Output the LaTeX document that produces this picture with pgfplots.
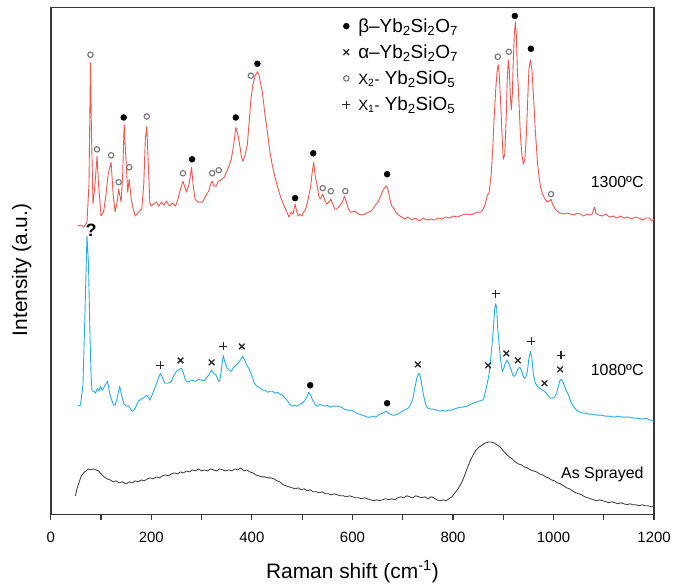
\documentclass[border=0pt]{standalone}
\usepackage{pgfplots}
\pgfplotsset{compat=1.18}
\usepackage{pgfplotstable}
\usepackage{fontspec}
\setmainfont{Liberation Sans}

\definecolor{hotred}{RGB}{236,88,78}
\definecolor{skyblue}{RGB}{40,172,226}
\definecolor{darkline}{RGB}{55,55,55}
\definecolor{ringgray}{RGB}{125,125,125}

% Raman spectra, shift (cm^-1) vs. offset intensity
\pgfplotstableread{
v h
53 288
60 289
66 287
72 292
76 330
79 452
81 380
84 310
88 330
92 358
95 330
100 298
105 302
110 320
114 340
120 352
124 320
128 302
132 312
135 325
140 312
143 340
146 390
149 360
153 322
156 335
160 315
164 305
168 298
172 300
176 303
181 305
185 330
188 375
191 388
194 350
197 312
200 308
204 310
210 312
215 308
220 312
225 309
230 313
236 308
242 311
248 308
253 315
258 325
263 333
266 328
270 322
275 330
280 347
283 330
287 315
293 312
302 312
308 318
314 323
318 330
321 333
325 328
329 328
333 333
338 334
345 337
352 345
359 355
364 370
368 387
372 380
375 372
379 358
382 353
386 358
391 370
395 395
398 415
402 430
406 438
411 443
414 440
417 432
421 422
426 400
431 382
436 362
441 348
447 335
454 322
460 313
467 305
474 297
478 302
482 300
486 310
489 303
492 298
496 300
500 298
503 302
507 305
512 315
517 328
520 342
523 352
526 338
530 328
533 318
536 315
539 318
541 320
545 314
549 310
553 312
557 315
561 310
565 305
569 305
574 308
580 312
584 318
588 312
592 305
596 302
599 302
605 303
612 300
618 299
625 300
632 302
638 303
644 308
651 312
656 318
661 324
665 327
668 328
671 324
674 316
678 308
681 307
686 302
692 299
698 297
704 295
710 297
718 294
725 296
733 293
741 296
748 294
756 295
763 294
770 296
778 295
786 297
794 296
800 298
809 297
818 299
826 300
833 299
840 300
848 302
855 302
860 305
864 310
868 318
872 322
876 340
879 365
882 398
885 425
888 445
890 450
892 440
895 410
898 375
900 355
903 360
906 400
908 435
910 455
912 445
914 420
916 405
918 420
920 455
922 480
924 493
926 480
928 445
931 415
934 380
937 360
940 350
943 355
946 380
949 420
951 445
954 455
957 445
960 420
964 382
968 352
971 338
974 328
978 320
983 315
987 312
991 313
995 315
998 310
1002 306
1007 303
1013 301
1020 300
1027 301
1034 300
1040 299
1047 301
1053 300
1060 298
1066 300
1072 299
1077 300
1080 305
1082 307
1084 301
1090 299
1097 298
1104 300
1111 297
1119 298
1126 296
1133 298
1140 296
1148 297
1155 295
1162 297
1170 296
1177 294
1184 296
1191 296
1196 293
1200 295
}\hightemp

\pgfplotstableread{
v h
53 107
59 108
64 128
68 200
72 278
75 250
78 178
80 140
82 122
86 122
89 120
93 125
96 122
99 127
102 123
104 124
108 128
113 132
117 120
122 112
125 108
128 108
132 115
137 127
141 118
145 110
150 107
155 107
160 103
164 102
169 106
174 112
180 114
186 116
191 118
194 116
197 113
203 120
209 128
214 135
218 140
222 136
227 130
233 130
240 132
245 138
250 142
256 144
260 145
264 140
268 133
272 131
276 132
282 133
288 132
294 134
300 133
306 133
310 136
314 138
318 142
320 143
324 140
329 138
333 133
336 132
339 142
343 158
346 152
351 145
355 143
359 142
364 146
368 148
374 151
379 155
382 157
386 153
390 148
394 145
398 140
402 135
405 130
410 127
415 126
421 123
426 123
431 121
436 122
441 122
446 120
451 121
456 119
461 118
465 116
470 113
475 109
480 107
486 108
490 107
495 109
500 110
504 112
509 116
513 121
517 118
521 113
527 108
531 107
535 109
540 108
546 107
550 108
556 106
560 107
565 107
572 107
578 106
584 104
590 103
596 103
602 102
608 100
614 99
620 98
625 97
630 96
636 96
642 97
647 96
651 98
655 99
660 100
664 101
668 102
671 100
675 99
680 98
684 98
690 99
696 101
702 103
707 104
711 105
715 108
720 114
724 125
728 135
732 140
735 137
738 128
740 122
744 112
747 107
750 105
756 104
762 104
768 103
774 102
780 103
786 102
790 103
796 103
802 104
808 105
814 106
820 106
826 107
829 107
835 109
840 110
846 111
852 112
856 113
859 113
862 116
866 125
869 132
872 140
875 155
878 170
881 190
883 205
885 210
887 205
889 185
892 168
895 152
898 142
901 145
904 150
907 153
910 151
913 147
916 143
919 138
921 137
924 138
927 142
930 145
933 146
936 143
939 138
942 135
945 136
948 142
951 155
954 162
957 155
960 138
964 130
968 127
972 125
976 124
979 123
982 122
986 120
990 117
994 115
998 115
1002 116
1006 120
1010 128
1013 133
1015 134
1018 132
1022 127
1026 122
1030 118
1034 112
1038 108
1042 105
1046 103
1052 101
1058 100
1064 100
1070 99
1077 99
1086 98
1095 98
1103 97
1111 97
1120 96
1129 97
1137 96
1145 96
1152 96
1160 95
1168 95
1176 94
1184 95
1192 93
1200 92
}\midtemp

\pgfplotstableread{
v h
49 17
52 24
56 30
60 36
65 40
70 42
75 44
80 43
85 44
90 43
95 42
100 39
106 36
112 34
118 33
124 31
130 32
136 30
142 31
150 29
156 31
162 30
168 32
174 31
180 33
186 32
192 34
198 35
204 34
210 36
216 35
222 37
228 38
234 37
240 39
246 40
252 39
258 41
264 40
270 42
276 41
282 43
288 42
294 44
300 42
306 43
312 42
318 44
324 43
330 42
336 44
342 43
348 42
354 43
360 42
366 44
372 43
378 45
384 42
390 43
396 41
402 40
408 38
414 37
420 36
426 36
432 35
438 35
444 34
450 32
456 31
462 28
468 27
474 26
480 25
486 24
492 25
498 23
504 24
510 22
516 23
522 21
528 21
534 20
540 21
546 19
552 19
558 18
564 19
570 18
576 17
582 17
588 16
594 17
600 16
606 15
612 15
618 14
624 15
630 14
636 13
642 12
648 13
654 12
660 13
666 14
672 13
678 14
684 13
690 15
696 16
702 15
708 17
714 16
720 15
726 17
732 16
738 15
744 16
750 14
756 16
762 15
768 13
774 12
780 13
786 12
792 14
798 16
804 20
810 24
816 29
822 36
828 44
834 52
840 58
846 63
852 66
858 68
864 70
870 71
876 71
882 70
888 68
894 66
900 62
906 59
912 56
918 54
924 51
930 49
936 48
942 46
948 45
954 43
960 42
966 41
972 39
978 38
984 36
990 35
996 33
1002 32
1008 30
1014 29
1020 27
1026 25
1032 24
1038 22
1044 20
1050 19
1056 18
1062 16
1068 15
1074 14
1080 13
1086 12
1092 13
1098 12
1104 11
1110 10
1116 11
1122 10
1128 9
1134 10
1140 9
1146 8
1152 9
1158 8
1164 8
1170 7
1176 8
1182 7
1188 7
1194 6
1200 6
}\sprayed

\begin{document}
\begin{tikzpicture}
\begin{axis}[
  name=spec,
  scale only axis, width=606bp, height=509.4bp,
  xmin=0, xmax=1200, ymin=-1.7, ymax=507.7,
  clip=false,
  ytick=\empty,
  xtick={0,200,...,1200}, minor xtick={100,300,...,1100},
  xtick pos=left, xtick align=outside,
  major tick length=6bp, minor tick length=6bp,
  x tick style={line width=1.2bp, draw=darkline},
  axis line style={line width=1.5bp, draw=darkline},
  /pgf/number format/assume math mode=true,
  /pgf/number format/set thousands separator={},
  xticklabel style={font=\fontsize{15bp}{17bp}\selectfont, yshift=-8bp},
  xlabel={Raman shift (cm\textsuperscript{-1})},
  ylabel={Intensity (a.u.)},
  label style={font=\fontsize{21bp}{24bp}\selectfont},
  x label style={at={(axis description cs:0.5,-0.126)}, anchor=base},
  y label style={at={(axis description cs:-0.0483,0.482)}, anchor=center},
  legend style={at={(axis description cs:0.478,0.986)}, anchor=north west,
    draw=none, fill=none, font=\fontsize{19bp}{21bp}\selectfont,
    row sep=7bp, column sep=6bp, cells={anchor=west}},
]
% frame traced through the axis itself
\addplot[darkline, line width=1.5bp, line join=miter, forget plot] coordinates {
(0,-1.7) (0,507.7) (1200,507.7) (1200,-1.7) (0,-1.7)};

\addplot[hotred, line width=0.9bp, line join=round, forget plot] table[x=v,y=h] {\hightemp};
\addplot[skyblue, line width=0.9bp, line join=round, forget plot] table[x=v,y=h] {\midtemp};
\addplot[darkline, line width=0.8bp, line join=round, forget plot] table[x=v,y=h] {\sprayed};

% phase markers
\addplot[only marks, mark=*, mark size=3bp, black] coordinates {
(145,397) (281,355) (368,397) (411,451) (486,316) (522,361) (669,340) (923,499) (955,466)
(516,128) (669,110)};
\addlegendentry{β–Yb\textsubscript{2}Si\textsubscript{2}O\textsubscript{7}}
\addplot[only marks, mark=x, mark size=4bp, line width=1.3bp, black!85] coordinates {
(258,153) (320,151) (380,167) (730,149) (870,148) (906,160) (929,153) (982,130) (1013,144)};
\addlegendentry{α–Yb\textsubscript{2}Si\textsubscript{2}O\textsubscript{7}}
\addplot[only marks, mark=*, mark size=2.7bp, line width=1.2bp, draw=ringgray, fill=white] coordinates {
(79,460) (92,365) (120,359) (135,332) (156,347) (191,398) (263,341) (321,341) (334,344)
(398,439) (541,326) (557,323) (586,323) (889,458) (911,463) (995,320)};
\addlegendentry{{\fontsize{15bp}{17bp}\selectfont X\textsubscript{2}-} Yb\textsubscript{2}SiO\textsubscript{5}}
\addplot[only marks, mark=+, mark size=4bp, line width=1.3bp, black!85] coordinates {
(218,148) (343,167) (885,220) (956,172) (1015,158)};
\addlegendentry{{\fontsize{15bp}{17bp}\selectfont X\textsubscript{1}-} Yb\textsubscript{2}SiO\textsubscript{5}}

\node[font=\fontsize{16bp}{18bp}\selectfont, anchor=east] at (axis cs:1186,332) {1300ºC};
\node[font=\fontsize{16bp}{18bp}\selectfont, anchor=east] at (axis cs:1186,143) {1080ºC};
\node[font=\fontsize{16bp}{18bp}\selectfont, anchor=east] at (axis cs:1186,39) {As Sprayed};
\node[font=\bfseries\fontsize{18bp}{20bp}\selectfont] at (axis cs:80,284) {?};
\end{axis}
\path ([shift={(-51bp,-71.3bp)}]spec.south west) rectangle ([shift={(17bp,7.3bp)}]spec.north east);
\end{tikzpicture}
\end{document}
